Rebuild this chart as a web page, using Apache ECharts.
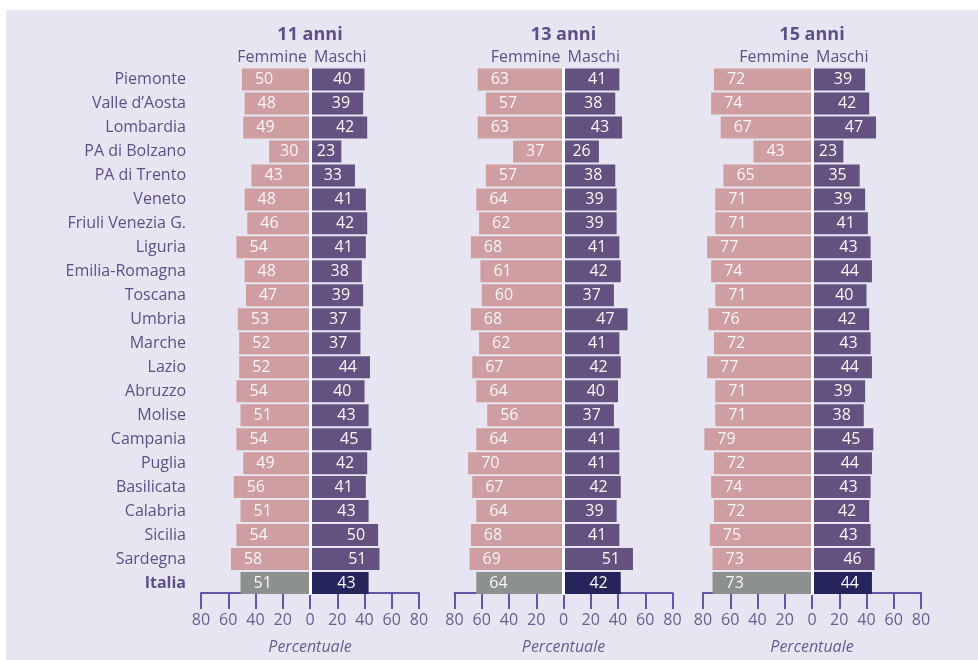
<!DOCTYPE html>
<html><head><meta charset="utf-8">
<script src="https://cdn.jsdelivr.net/npm/echarts@6/dist/echarts.min.js"></script>
<style>html,body{margin:0;padding:0;background:#fff}#c{width:978px;height:660px}</style>
</head><body><div id="c"></div>
<script>
const categories = ["Piemonte","Valle d\u2019Aosta","Lombardia","PA di Bolzano","PA di Trento","Veneto","Friuli Venezia G.","Liguria","Emilia-Romagna","Toscana","Umbria","Marche","Lazio","Abruzzo","Molise","Campania","Puglia","Basilicata","Calabria","Sicilia","Sardegna","Italia"];
const femmine11 = [50,48,49,30,43,48,46,54,48,47,53,52,52,54,51,54,49,56,51,54,58,51];
const maschi11  = [40,39,42,23,33,41,42,41,38,39,37,37,44,40,43,45,42,41,43,50,51,43];
const femmine13 = [63,57,63,37,57,64,62,68,61,60,68,62,67,64,56,64,70,67,64,68,69,64];
const maschi13  = [41,38,43,26,38,39,39,41,42,37,47,41,42,40,37,41,41,42,39,41,51,42];
const femmine15 = [72,74,67,43,65,71,71,77,74,71,76,72,77,71,71,79,72,74,72,75,73,73];
const maschi15  = [39,42,47,23,35,39,41,43,44,40,42,43,44,39,38,45,44,43,42,43,46,44];
const panelTitles = ["11 anni","13 anni","15 anni"];
const sexLabels = ["Femmine","Maschi"];
const axisName = "Percentuale";

const FONT = "'Open Sans', 'Noto Sans', sans-serif";
const TXT = '#5e4f86';
const AXC = '#6453a6';
const C_F = '#cf9ea1', C_M = '#63527f', C_FI = '#8c908f', C_MI = '#25255c';
const GRID_W = 218, GRID_TOP = 67.5, GRID_H = 528.5;
const lefts = [201, 454.5, 703];
const PX = GRID_W / 160;

const fem = [femmine11, femmine13, femmine15];
const mas = [maschi11, maschi13, maschi15];

function dist(v){ return Math.max(3, Math.min(13, (v*PX - 19)/2)); }

const grids = [], xAxes = [], yAxes = [], series = [], graphics = [];
graphics.push({type:'rect', z:-100, shape:{x:6,y:10,width:972,height:650}, style:{fill:'#e8e5f2'}, silent:true});
for (let p = 0; p < 3; p++) {
  grids.push({left: lefts[p], top: GRID_TOP, width: GRID_W, height: GRID_H, containLabel:false});
  xAxes.push({type:'value', gridIndex:p, min:-80, max:80, interval:20, offset:-2,
    axisLine:{show:true, lineStyle:{color:AXC, width:2}},
    axisTick:{show:true, length:16, lineStyle:{color:AXC, width:2}},
    splitLine:{show:false},
    axisLabel:{color:'#6a5b90', fontSize:16, fontFamily:FONT, margin:19, formatter: v => String(Math.abs(v))},
    name: axisName, nameLocation:'middle', nameGap:46,
    nameTextStyle:{color:'#6a5b90', fontSize:16, fontStyle:'italic', fontFamily:FONT}
  });
  yAxes.push({type:'category', gridIndex:p, data:categories, inverse:true,
    axisLine:{show:false}, axisTick:{show:false},
    axisLabel:{show: p===0, color:TXT, fontSize:16, fontFamily:FONT, margin:15,
      formatter: v => v === 'Italia' ? '{b|' + v + '}' : v,
      rich:{b:{fontWeight:'bold', color:TXT, fontSize:16, fontFamily:FONT}}}
  });
  const n = categories.length;
  series.push({type:'bar', xAxisIndex:p, yAxisIndex:p, barWidth:22, barGap:'-100%',
    data: fem[p].map((v,i) => ({value:-v, itemStyle:{color: i===n-1 ? C_FI : C_F},
      label:{distance: dist(v)}})),
    label:{show:true, position:'insideLeft', color:'#fbf6f6', fontSize:16, fontFamily:FONT,
      formatter: d => String(Math.abs(d.value))},
    silent:true, animation:false, z:2
  });
  series.push({type:'bar', xAxisIndex:p, yAxisIndex:p, barWidth:22, barGap:'-100%',
    data: mas[p].map((v,i) => ({value:v, itemStyle:{color: i===n-1 ? C_MI : C_M},
      label:{distance: dist(v)}})),
    label:{show:true, position:'insideRight', color:'#fbf6f6', fontSize:16, fontFamily:FONT},
    markLine:{silent:true, symbol:['none','none'], label:{show:false},
      lineStyle:{color:'#ffffff', width:3, type:'solid'}, data:[{xAxis:0}], z:10},
    silent:true, animation:false, z:3
  });
  const cx = lefts[p] + GRID_W/2;
  graphics.push({type:'text', x: cx, y: 35, style:{text: panelTitles[p], fill:TXT, font:'bold 18px ' + FONT, textAlign:'center', textVerticalAlign:'middle'}});
  graphics.push({type:'text', x: cx - 3, y: 57, style:{text: sexLabels[0], fill:TXT, font:'16px ' + FONT, textAlign:'right', textVerticalAlign:'middle'}});
  graphics.push({type:'text', x: cx + 4, y: 57, style:{text: sexLabels[1], fill:TXT, font:'16px ' + FONT, textAlign:'left', textVerticalAlign:'middle'}});
}

const chart = echarts.init(document.getElementById('c'), null, {renderer:'canvas'});
chart.setOption({
  backgroundColor:'#ffffff', animation:false,
  textStyle:{fontFamily:FONT},
  grid: grids, xAxis: xAxes, yAxis: yAxes, series: series, graphic: graphics
});
</script></body></html>
